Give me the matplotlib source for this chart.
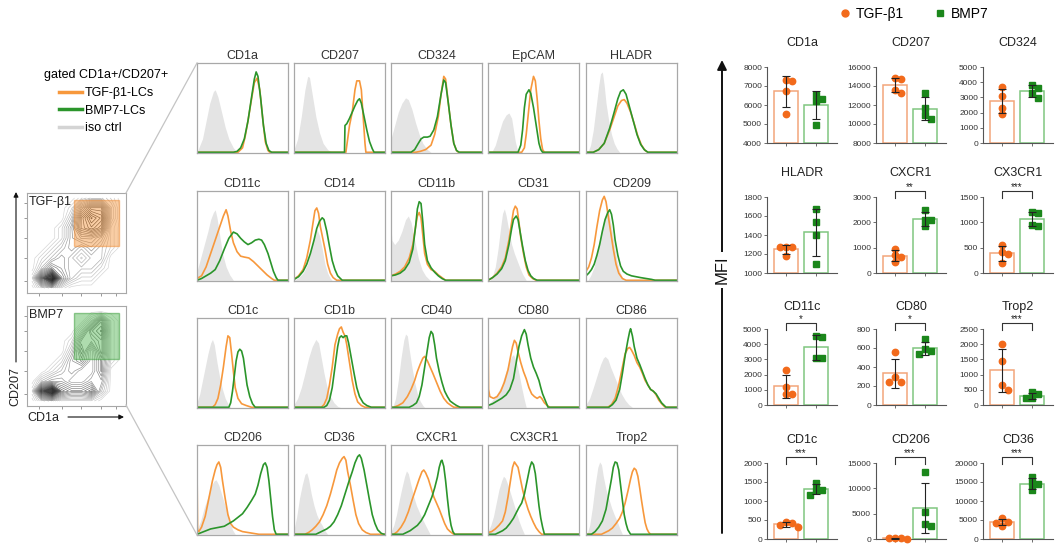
import numpy as np
import matplotlib.pyplot as plt
from matplotlib.lines import Line2D
from matplotlib.patches import Rectangle

plt.rcParams['font.family'] = ['Liberation Sans', 'DejaVu Sans']

W, H = 1056, 546

# ---------------- data ----------------
hist_layout = [["CD1a", "CD207", "CD324", "EpCAM", "HLADR"],
               ["CD11c", "CD14", "CD11b", "CD31", "CD209"],
               ["CD1c", "CD1b", "CD40", "CD80", "CD86"],
               ["CD206", "CD36", "CXCR1", "CX3CR1", "Trop2"]]

# histogram outlines, (x %, height %)
hist_iso = {
    "CD1a": [(2, 5), (6, 15), (10, 35), (14, 55), (18, 68), (20, 70), (23, 62), (27, 45), (31, 28), (35, 15), (40, 5), (44, 0)],
    "CD207": [(0, 3), (4, 15), (8, 40), (12, 70), (15, 85), (17, 84), (20, 65), (24, 40), (28, 22), (32, 10), (37, 3), (42, 0)],
    "CD324": [(0, 15), (4, 30), (8, 45), (12, 55), (16, 61), (19, 59), (23, 48), (27, 33), (31, 20), (35, 10), (40, 3), (44, 0)],
    "EpCAM": [(4, 0), (8, 8), (12, 22), (16, 35), (20, 42), (23, 44), (26, 38), (28, 25), (30, 12), (32, 4), (34, 0)],
    "HLADR": [(2, 0), (5, 8), (8, 25), (11, 50), (14, 75), (16, 88), (18, 90), (20, 75), (22, 55), (25, 35), (28, 20), (31, 10), (34, 4), (37, 0)],
    "CD11c": [(0, 10), (4, 25), (8, 40), (12, 55), (15, 68), (18, 76), (20, 79), (22, 70), (25, 50), (28, 30), (32, 15), (36, 6), (40, 0)],
    "CD14": [(0, 0), (5, 3), (10, 8), (15, 18), (19, 35), (22, 50), (25, 58), (28, 50), (31, 35), (34, 18), (37, 8), (40, 2), (42, 0)],
    "CD11b": [(0, 60), (1, 45), (4, 40), (8, 45), (12, 55), (16, 68), (19, 72), (22, 65), (26, 45), (30, 25), (34, 12), (38, 5), (43, 0)],
    "CD31": [(2, 0), (5, 5), (8, 15), (11, 35), (14, 60), (16, 75), (18, 80), (20, 72), (23, 55), (26, 40), (29, 30), (32, 22), (35, 14), (38, 7), (42, 0)],
    "CD209": [(2, 0), (5, 5), (9, 15), (13, 35), (17, 55), (20, 70), (23, 78), (25, 76), (28, 60), (31, 40), (34, 22), (37, 10), (40, 3), (43, 0)],
    "CD1c": [(0, 5), (3, 15), (6, 30), (9, 45), (12, 60), (15, 72), (17, 76), (19, 70), (22, 50), (25, 33), (28, 20), (31, 10), (34, 4), (37, 0)],
    "CD1b": [(0, 3), (4, 10), (8, 22), (12, 38), (16, 55), (20, 68), (24, 76), (27, 72), (30, 55), (33, 38), (36, 24), (40, 12), (44, 5), (48, 1), (51, 0)],
    "CD40": [(2, 0), (5, 10), (8, 30), (11, 55), (14, 75), (16, 82), (18, 80), (20, 65), (23, 45), (26, 28), (29, 15), (32, 7), (35, 2), (37, 0)],
    "CD80": [(0, 3), (5, 8), (10, 15), (15, 25), (19, 38), (23, 50), (26, 57), (28, 59), (31, 52), (34, 38), (37, 22), (40, 8), (42, 0)],
    "CD86": [(0, 3), (4, 10), (8, 22), (12, 35), (16, 48), (19, 55), (21, 57), (24, 54), (27, 45), (31, 35), (35, 25), (39, 15), (43, 8), (47, 3), (51, 0)],
    "CD206": [(0, 5), (4, 15), (8, 30), (12, 42), (16, 55), (19, 60), (21, 61), (24, 55), (27, 45), (30, 35), (33, 25), (36, 15), (39, 5), (42, 0)],
    "CD36": [(0, 5), (3, 20), (6, 40), (9, 55), (12, 67), (14, 69), (16, 62), (19, 45), (22, 32), (25, 22), (28, 15), (31, 10), (34, 4), (37, 0)],
    "CXCR1": [(0, 3), (3, 10), (6, 22), (9, 38), (12, 52), (15, 65), (17, 71), (19, 68), (22, 55), (25, 42), (28, 32), (31, 25), (34, 18), (37, 12), (40, 6), (43, 0)],
    "CX3CR1": [(0, 3), (3, 10), (6, 20), (9, 35), (12, 50), (15, 60), (17, 65), (19, 63), (22, 55), (25, 45), (28, 35), (31, 25), (34, 15), (37, 7), (40, 0)],
    "Trop2": [(1, 0), (4, 10), (7, 30), (10, 55), (13, 75), (15, 81), (17, 78), (19, 65), (22, 50), (25, 40), (28, 30), (31, 22), (34, 15), (37, 7), (40, 0)],
}

hist_tgf = {
    "CD1a": [(45, 0), (50, 5), (53, 18), (56, 35), (60, 60), (63, 78), (66, 83), (69, 70), (72, 40), (75, 12), (78, 2), (80, 0)],
    "CD207": [(57, 0), (59, 15), (61, 30), (64, 45), (67, 70), (69, 80), (72, 80), (74, 70), (76, 40), (78, 10), (79, 0)],
    "CD324": [(27, 0), (32, 1), (38, 3), (44, 8), (48, 20), (52, 40), (55, 65), (58, 85), (60, 82), (63, 55), (66, 30), (69, 10), (72, 2), (74, 0)],
    "EpCAM": [(37, 0), (40, 5), (42, 20), (45, 50), (47, 70), (50, 85), (52, 80), (54, 60), (56, 35), (58, 15), (60, 3), (62, 0)],
    "HLADR": [(8, 0), (14, 3), (20, 10), (26, 25), (31, 40), (35, 52), (39, 58), (42, 59), (45, 55), (49, 45), (53, 32), (57, 18), (61, 8), (65, 2), (68, 0)],
    "CD11c": [(0, 2), (5, 5), (10, 15), (15, 30), (20, 45), (25, 60), (29, 72), (32, 79), (34, 72), (37, 55), (40, 42), (44, 32), (48, 27), (52, 26), (57, 25), (62, 21), (67, 16), (72, 11), (77, 6), (82, 2), (85, 0)],
    "CD14": [(0, 1), (5, 5), (10, 12), (14, 25), (18, 45), (21, 65), (23, 78), (25, 81), (27, 75), (29, 60), (31, 50), (34, 35), (37, 18), (40, 8), (43, 3), (47, 0)],
    "CD11b": [(0, 5), (5, 7), (10, 10), (15, 15), (20, 25), (24, 40), (27, 60), (29, 72), (31, 76), (33, 70), (35, 50), (37, 30), (40, 18), (44, 12), (48, 10), (52, 6), (56, 3), (60, 0)],
    "CD31": [(0, 0), (5, 3), (10, 8), (15, 15), (19, 25), (23, 45), (26, 65), (28, 78), (30, 83), (32, 80), (34, 65), (36, 48), (39, 30), (42, 15), (45, 6), (49, 2), (53, 0)],
    "CD209": [(0, 10), (3, 15), (6, 25), (9, 40), (12, 60), (15, 78), (18, 90), (20, 94), (22, 88), (24, 75), (27, 55), (30, 35), (33, 18), (36, 8), (40, 2), (44, 0)],
    "CD1c": [(17, 0), (20, 3), (23, 10), (26, 25), (29, 45), (32, 68), (34, 80), (36, 78), (38, 60), (40, 40), (42, 22), (45, 10), (49, 4), (54, 2), (60, 0)],
    "CD1b": [(30, 0), (33, 3), (36, 10), (39, 25), (42, 45), (45, 70), (48, 82), (50, 88), (52, 90), (54, 84), (56, 80), (58, 70), (61, 50), (64, 30), (67, 15), (70, 6), (74, 2), (78, 0)],
    "CD40": [(3, 0), (8, 2), (13, 5), (18, 12), (22, 20), (26, 30), (29, 40), (32, 48), (35, 55), (37, 57), (40, 52), (43, 45), (46, 38), (50, 28), (54, 18), (58, 10), (62, 5), (66, 2), (69, 0)],
    "CD80": [(0, 98), (0.6, 20), (2, 12), (6, 10), (10, 12), (14, 18), (18, 28), (22, 42), (25, 58), (27, 68), (29, 75), (31, 72), (33, 62), (36, 50), (39, 40), (42, 32), (45, 22), (48, 15), (51, 12), (54, 10), (57, 12), (59, 10), (62, 5), (65, 2), (68, 0)],
    "CD86": [(24, 0), (28, 3), (32, 10), (36, 25), (40, 45), (43, 60), (46, 66), (48, 67), (50, 64), (53, 58), (56, 50), (59, 45), (62, 38), (65, 30), (68, 25), (71, 20), (74, 18), (77, 14), (80, 8), (84, 3), (87, 0)],
    "CD206": [(0, 78), (0.6, 5), (2, 3), (5, 8), (9, 20), (13, 40), (17, 60), (20, 72), (22, 78), (24, 81), (26, 75), (28, 60), (31, 40), (34, 22), (37, 12), (40, 8), (45, 5), (50, 3), (56, 2), (62, 1), (68, 0)],
    "CD36": [(12, 0), (16, 2), (20, 5), (24, 9), (28, 14), (32, 22), (36, 32), (40, 45), (44, 60), (47, 72), (50, 80), (53, 85), (55, 87), (57, 83), (59, 70), (62, 55), (65, 38), (68, 22), (71, 12), (75, 5), (79, 2), (84, 0)],
    "CXCR1": [(3, 0), (7, 3), (11, 8), (15, 15), (19, 25), (23, 38), (27, 50), (31, 62), (34, 70), (36, 72), (38, 69), (41, 62), (44, 52), (47, 42), (50, 35), (53, 28), (56, 20), (59, 12), (62, 6), (65, 3), (69, 0)],
    "CX3CR1": [(0, 2), (4, 3), (8, 6), (12, 10), (16, 15), (19, 25), (22, 42), (25, 62), (27, 75), (29, 81), (31, 78), (33, 75), (35, 65), (38, 50), (41, 38), (44, 28), (47, 20), (50, 13), (53, 7), (56, 3), (59, 0)],
    "Trop2": [(17, 0), (21, 2), (25, 4), (29, 7), (33, 12), (37, 18), (40, 25), (43, 35), (46, 48), (49, 62), (51, 70), (53, 74), (55, 72), (57, 65), (59, 52), (61, 38), (63, 25), (65, 13), (67, 6), (69, 2), (71, 0)],
}

hist_bmp = {
    "CD1a": [(40, 0), (44, 1), (48, 5), (52, 15), (56, 35), (60, 62), (63, 82), (65, 90), (67, 85), (70, 60), (73, 30), (76, 10), (79, 2), (82, 0)],
    "CD207": [(55.5, 0), (56, 30), (58, 32), (61, 38), (64, 45), (67, 52), (70, 58), (72, 60), (74, 55), (77, 40), (80, 25), (83, 12), (86, 4), (88, 0)],
    "CD324": [(22, 0), (26, 3), (30, 10), (33, 15), (36, 17), (40, 17), (43, 18), (47, 25), (51, 40), (55, 65), (58, 81), (60, 78), (63, 55), (66, 30), (69, 10), (72, 2), (75, 0)],
    "EpCAM": [(33, 0), (36, 8), (38, 25), (40, 50), (42, 65), (45, 70), (47, 66), (50, 50), (53, 30), (56, 10), (58, 3), (60, 0)],
    "HLADR": [(8, 0), (14, 3), (20, 10), (26, 27), (31, 45), (35, 60), (38, 68), (41, 70), (44, 65), (48, 50), (52, 35), (56, 20), (60, 9), (64, 3), (68, 0)],
    "CD11c": [(0, 0), (5, 2), (10, 5), (15, 8), (20, 12), (25, 22), (30, 35), (35, 47), (40, 54), (44, 52), (48, 47), (52, 43), (56, 40), (60, 42), (64, 45), (68, 46), (71, 45), (74, 40), (78, 30), (81, 20), (84, 10), (87, 3), (89, 0)],
    "CD14": [(0, 1), (5, 4), (10, 10), (14, 18), (18, 30), (22, 45), (25, 58), (28, 66), (31, 70), (33, 68), (36, 55), (39, 38), (42, 22), (45, 12), (48, 5), (51, 2), (53, 0)],
    "CD11b": [(0, 5), (5, 6), (10, 8), (15, 12), (20, 20), (24, 35), (27, 60), (29, 80), (31, 88), (33, 86), (35, 65), (37, 40), (40, 22), (44, 14), (48, 9), (52, 5), (56, 2), (60, 0)],
    "CD31": [(0, 0), (5, 3), (10, 7), (15, 13), (19, 22), (23, 40), (26, 58), (28, 68), (31, 72), (33, 68), (35, 56), (38, 38), (41, 22), (44, 11), (47, 5), (50, 2), (54, 0)],
    "CD209": [(0, 5), (3, 8), (6, 12), (9, 18), (12, 28), (15, 40), (18, 55), (21, 68), (24, 76), (26, 79), (28, 74), (30, 62), (32, 45), (35, 28), (38, 16), (41, 10), (45, 7), (50, 5), (55, 4), (60, 3), (66, 2), (72, 1), (76, 0)],
    "CD1c": [(35, 0), (37, 5), (39, 18), (41, 35), (43, 52), (45, 62), (47, 65), (49, 63), (51, 55), (53, 40), (55, 25), (58, 12), (61, 4), (64, 0)],
    "CD1b": [(33, 0), (36, 2), (39, 8), (42, 22), (45, 45), (48, 68), (50, 78), (52, 80), (54, 78), (56, 80), (58, 80), (60, 72), (63, 55), (66, 38), (69, 22), (72, 12), (76, 5), (80, 2), (85, 0)],
    "CD40": [(20, 0), (24, 2), (28, 5), (31, 12), (34, 25), (37, 45), (40, 65), (42, 78), (44, 85), (46, 82), (48, 70), (50, 55), (53, 40), (56, 28), (59, 18), (62, 12), (65, 7), (69, 4), (72, 2), (76, 0)],
    "CD80": [(0, 2), (5, 4), (10, 7), (15, 10), (20, 14), (24, 20), (28, 32), (31, 50), (34, 68), (37, 80), (40, 87), (42, 82), (44, 70), (47, 55), (50, 45), (53, 38), (56, 30), (58, 22), (60, 15), (62, 10), (64, 5), (66, 0)],
    "CD86": [(25, 0), (29, 3), (33, 8), (37, 20), (40, 38), (43, 58), (46, 75), (48, 85), (49, 88), (51, 80), (53, 68), (56, 55), (59, 48), (62, 40), (65, 32), (68, 25), (71, 20), (74, 18), (77, 15), (80, 10), (83, 5), (86, 2), (88, 0)],
    "CD206": [(0, 0), (5, 2), (10, 4), (15, 6), (20, 7), (25, 8), (30, 9), (35, 12), (40, 15), (45, 19), (50, 23), (55, 30), (60, 38), (64, 45), (67, 55), (70, 68), (73, 78), (75, 80), (77, 75), (79, 60), (81, 40), (83, 20), (85, 5), (87, 0)],
    "CD36": [(24, 0), (28, 2), (32, 4), (36, 6), (40, 9), (44, 14), (48, 22), (52, 32), (56, 45), (60, 58), (64, 70), (67, 80), (70, 87), (72, 89), (74, 85), (77, 72), (80, 55), (83, 38), (86, 22), (89, 12), (92, 5), (96, 1), (99, 0)],
    "CXCR1": [(13, 0), (17, 2), (21, 4), (25, 7), (29, 10), (33, 15), (37, 22), (41, 32), (45, 42), (48, 52), (51, 64), (53, 75), (55, 82), (56, 83), (58, 76), (60, 60), (62, 40), (64, 22), (66, 10), (68, 3), (70, 0)],
    "CX3CR1": [(8, 0), (12, 2), (16, 4), (20, 7), (24, 12), (28, 18), (31, 24), (34, 30), (37, 35), (40, 45), (43, 60), (46, 75), (48, 81), (50, 78), (52, 68), (54, 50), (56, 32), (58, 18), (60, 8), (62, 0)],
    "Trop2": [(6, 0), (10, 3), (14, 8), (18, 15), (22, 28), (25, 45), (28, 62), (30, 75), (32, 81), (34, 80), (36, 72), (38, 55), (40, 38), (42, 22), (44, 12), (46, 5), (49, 0)],
}

bar_layout = [["CD1a", "CD207", "CD324"],
              ["HLADR", "CXCR1", "CX3CR1"],
              ["CD11c", "CD80", "Trop2"],
              ["CD1c", "CD206", "CD36"]]

mfi_tgf = {
    "CD1a": [7300, 7250, 6750, 5550], "CD207": [14800, 14700, 13600, 13300],
    "CD324": [3700, 3100, 2300, 1900], "HLADR": [1270, 1270, 1270, 1180],
    "CXCR1": [950, 700, 650, 450], "CX3CR1": [550, 420, 380, 200],
    "CD11c": [2300, 1200, 700, 700], "CD80": [560, 290, 240, 240],
    "Trop2": [2000, 1450, 650, 480], "CD1c": [460, 410, 360, 320],
    "CD206": [150, 120, 100, 80], "CD36": [5400, 4500, 4300, 3400],
}
mfi_bmp = {
    "CD1a": [6550, 6300, 6200, 4950], "CD207": [13300, 11700, 11000, 10500],
    "CD324": [3800, 3650, 3300, 2950], "HLADR": [1670, 1540, 1400, 1100],
    "CXCR1": [2500, 2100, 2100, 1850], "CX3CR1": [1200, 1180, 950, 930],
    "CD11c": [4550, 4500, 3100, 3100], "CD80": [690, 585, 565, 540],
    "Trop2": [430, 350, 220, 230], "CD1c": [1480, 1300, 1300, 1150],
    "CD206": [13200, 5400, 3000, 2600], "CD36": [16300, 14700, 14600, 12800],
}
mfi_ticks = {
    "CD1a": [4000, 5000, 6000, 7000, 8000], "CD207": [8000, 10000, 12000, 14000, 16000],
    "CD324": [0, 1000, 2000, 3000, 4000, 5000], "HLADR": [1000, 1200, 1400, 1600, 1800],
    "CXCR1": [0, 1000, 2000, 3000], "CX3CR1": [0, 500, 1000, 1500],
    "CD11c": [0, 1000, 2000, 3000, 4000, 5000], "CD80": [0, 200, 400, 600, 800],
    "Trop2": [0, 500, 1000, 1500, 2000, 2500], "CD1c": [0, 500, 1000, 1500, 2000],
    "CD206": [0, 5000, 10000, 15000], "CD36": [0, 5000, 10000, 15000, 20000],
}
mfi_stars = {"CXCR1": "**", "CX3CR1": "***", "CD11c": "*", "CD80": "*",
             "Trop2": "***", "CD1c": "***", "CD206": "***", "CD36": "***"}

# contour densities, rows from top to bottom (CD207 high -> low), cols CD1a low -> high
dens_tgf = [
    [0, 0, 0, 0, 0, 1, 2, 2, 1, 0],
    [0, 0, 0, 0, 1, 4, 6, 6, 2, 0],
    [0, 0, 0, 0, 2, 6, 8, 7, 2, 0],
    [0, 0, 0, 1, 3, 6, 7, 6, 1, 0],
    [0, 0, 0, 1, 3, 4, 4, 3, 1, 0],
    [0, 0, 1, 2, 3, 2, 3, 2, 1, 0],
    [0, 1, 2, 3, 2, 1, 2, 2, 0, 0],
    [0, 2, 4, 3, 2, 2, 2, 1, 0, 0],
    [1, 6, 9, 4, 2, 1, 1, 0, 0, 0],
    [0, 2, 3, 1, 0, 0, 0, 0, 0, 0],
]
dens_bmp = [
    [0, 0, 0, 0, 0, 0, 0, 0, 0, 0],
    [0, 0, 0, 0, 0, 0, 2, 5, 1, 0],
    [0, 0, 0, 0, 0, 2, 5, 6, 1, 0],
    [0, 0, 0, 0, 1, 4, 4, 5, 1, 0],
    [0, 0, 0, 0, 2, 5, 2, 5, 1, 0],
    [0, 0, 0, 1, 3, 4, 2, 4, 1, 0],
    [0, 0, 1, 2, 3, 2, 2, 4, 0, 0],
    [0, 2, 3, 3, 2, 2, 3, 3, 0, 0],
    [1, 7, 9, 5, 4, 4, 5, 2, 0, 0],
    [0, 2, 3, 1, 1, 1, 1, 0, 0, 0],
]

# ---------------- style ----------------
ORANGE = '#f7983c'
GREEN = '#2b952b'
ISO = '#e4e4e4'
DOT_OR = '#f26a1b'
DOT_GR = '#1b871b'
BAR_OR = '#f3a57a'
BAR_GR = '#80c680'
FRAME = '#a8a8a8'


def box(x0, y0, w, h):
    return [x0 / W, 1 - (y0 + h) / H, w / W, h / H]


def fx(x):
    return x / W


def fy(y):
    return 1 - y / H


def outline(pts):
    x = [0] + [p[0] for p in pts] + [100]
    y = [0] + [p[1] for p in pts] + [0]
    return x, y


def swarm(vals, ypx, xpx, dia=6.2):
    offs = np.zeros(len(vals))
    placed = []
    for i in np.argsort(vals)[::-1]:
        for k in [0, 1, -1, 2, -2, 3, -3]:
            dx = k * dia / xpx
            if all(np.hypot((dx - a) * xpx, (vals[i] - b) * ypx) >= dia * 0.95 for a, b in placed):
                break
        placed.append((dx, vals[i]))
        offs[i] = dx
    return offs


fig = plt.figure(figsize=(W / 100, H / 100), dpi=100)

# ---------------- histograms ----------------
col_x = [197, 294, 391, 488, 586]
row_y = [63, 191, 318, 445]
for r, names in enumerate(hist_layout):
    for c, name in enumerate(names):
        ax = fig.add_axes(box(col_x[c], row_y[r], 91, 90))
        x, y = outline(hist_iso[name])
        ax.fill_between(x, y, color=ISO, lw=0)
        x, y = outline(hist_tgf[name])
        ax.plot(x, y, color=ORANGE, lw=1.2)
        x, y = outline(hist_bmp[name])
        ax.plot(x, y, color=GREEN, lw=1.2)
        ax.set_xlim(0, 100)
        ax.set_ylim(-0.8, 100)
        ax.set_xticks([])
        ax.set_yticks([])
        for s in ax.spines.values():
            s.set_color(FRAME)
            s.set_linewidth(0.9)
        ax.set_title(name, fontsize=9, color='#333333', pad=3)

# ---------------- contour gating plots ----------------
gx = np.linspace(0.05, 0.95, 10)
gy = np.linspace(0.95, 0.05, 10)
GX, GY = np.meshgrid(gx, gy)
gates = [("TGF-β1", dens_tgf, 193, '#f5a55a', '#f0903a'),
         ("BMP7", dens_bmp, 306, '#6cc06c', '#3fa03f')]
for label, dens, top, fc, ec in gates:
    ax = fig.add_axes(box(27, top, 99, 100))
    ax.contour(GX, GY, np.array(dens, float), levels=np.linspace(0.3, 8.7, 22),
               cmap='Greys', vmin=-2.5, vmax=7.5, linewidths=0.45)
    ax.add_patch(Rectangle((0.47, 0.47), 0.46, 0.46, facecolor=fc, edgecolor=ec, alpha=0.55, lw=1, zorder=5))
    ax.set_xlim(0, 1)
    ax.set_ylim(0, 1)
    ax.set_xticks([0.12, 0.35, 0.55, 0.75, 0.9])
    ax.set_yticks([0.12, 0.35, 0.55, 0.75, 0.9])
    ax.tick_params(length=2, width=0.6, color='#888888', labelleft=False, labelbottom=False)
    for s in ax.spines.values():
        s.set_color(FRAME)
        s.set_linewidth(0.8)
    ax.text(0.02, 0.97, label, transform=ax.transAxes, ha='left', va='top', fontsize=9, color='#222222', zorder=6)

fig.add_artist(Line2D([fx(126), fx(197)], [fy(193), fy(63)], color='#c4c4c4', lw=0.9))
fig.add_artist(Line2D([fx(126), fx(197)], [fy(405), fy(535)], color='#c4c4c4', lw=0.9))

arrow = dict(arrowstyle='-|>', color='#111111', lw=0.8, mutation_scale=7, shrinkA=0, shrinkB=0)
fig.add_artist(plt.Annotation('', xy=(fx(16), fy(192)), xytext=(fx(16), fy(362)),
                              xycoords='figure fraction', arrowprops=arrow))
fig.add_artist(plt.Annotation('', xy=(fx(124), fy(417)), xytext=(fx(68), fy(417)),
                              xycoords='figure fraction', arrowprops=arrow))
fig.text(fx(15), fy(386), 'CD207', rotation=90, ha='center', va='center', fontsize=9, color='#222222')
fig.text(fx(27), fy(418), 'CD1a', ha='left', va='center', fontsize=9, color='#222222')

left_handles = [Line2D([], [], color=ORANGE, lw=2.5), Line2D([], [], color=GREEN, lw=2.5),
                Line2D([], [], color='#d4d4d4', lw=2.5)]
fig.legend(left_handles, ['TGF-β1-LCs', 'BMP7-LCs', 'iso ctrl'], title='gated CD1a+/CD207+',
           loc='upper left', bbox_to_anchor=(fx(38), fy(63)), frameon=False, fontsize=9,
           title_fontsize=9, handlelength=1.9, handletextpad=0.2, labelspacing=0.45,
           borderpad=0, alignment='center')

# ---------------- MFI bar charts ----------------
bcol_x = [767, 876, 983]
brow_y = [67, 197, 329, 463]
title_y = [43, 173, 307, 440]
BW, BH = 70, 76
xlim = (-0.63, 1.7)
for r, names in enumerate(bar_layout):
    for c, name in enumerate(names):
        ax = fig.add_axes(box(bcol_x[c], brow_y[r], BW, BH))
        ticks = mfi_ticks[name]
        lo, hi = ticks[0], ticks[-1]
        ypx = BH / (hi - lo)
        xpx = BW / (xlim[1] - xlim[0])
        for i, (vals, ecol, dcol, mk) in enumerate([(mfi_tgf[name], BAR_OR, DOT_OR, 'o'),
                                                      (mfi_bmp[name], BAR_GR, DOT_GR, 's')]):
            vals = np.array(vals, float)
            m = vals.mean()
            sd = vals.std(ddof=1)
            ax.bar(i, m - lo, bottom=lo, width=0.82, facecolor='white', edgecolor=ecol, lw=1.1, zorder=2)
            ax.plot(i + swarm(vals, ypx, xpx), vals, ls='', marker=mk, ms=4.6, color=dcol, zorder=3, clip_on=False)
            ax.errorbar(i, m, yerr=sd, fmt='none', ecolor='#222222', elinewidth=0.8, capsize=3,
                        capthick=0.8, zorder=4)
        ax.set_xlim(*xlim)
        ax.set_ylim(lo, hi)
        ax.set_yticks(ticks)
        ax.set_yticklabels([str(t) for t in ticks])
        ax.set_xticks([0, 1])
        ax.set_xticklabels([])
        ax.tick_params(length=2.5, width=0.6, colors='#555555', labelsize=6, pad=1)
        ax.tick_params(axis='y', labelcolor='#333333')
        for s in ['top', 'right']:
            ax.spines[s].set_visible(False)
        for s in ['left', 'bottom']:
            ax.spines[s].set_color('#555555')
            ax.spines[s].set_linewidth(0.8)
        if name in mfi_stars:
            tr = ax.get_xaxis_transform()
            ax.plot([0, 0, 1, 1], [0.99, 1.08, 1.08, 0.99], transform=tr, color='#333333', lw=0.8, clip_on=False)
            ax.text(0.5, 1.065, mfi_stars[name], transform=tr, ha='center', va='bottom', fontsize=7, color='#222222')
        fig.text(fx(bcol_x[c] + BW / 2), fy(title_y[r]), name, ha='center', va='center', fontsize=9, color='#222222')

fig.add_artist(plt.Annotation('', xy=(fx(722), fy(60)), xytext=(fx(722), fy(533)), xycoords='figure fraction',
                              arrowprops=dict(arrowstyle='-|>', color='#111111', lw=1.4, mutation_scale=14,
                                              shrinkA=0, shrinkB=0)))
fig.text(fx(722), fy(270), 'MFI', rotation=90, ha='center', va='center', fontsize=12, color='#111111',
         bbox=dict(facecolor='white', edgecolor='none', pad=3))

top_handles = [Line2D([], [], ls='', marker='o', ms=5, color=DOT_OR),
               Line2D([], [], ls='', marker='s', ms=5, color=DOT_GR)]
fig.legend(top_handles, ['TGF-β1', 'BMP7'], loc='center', bbox_to_anchor=(fx(914), fy(14)), ncol=2,
           frameon=False, fontsize=10, handlelength=0.8, handletextpad=0.4, columnspacing=2.2, borderpad=0)

fig.savefig('out.png', dpi=100)
